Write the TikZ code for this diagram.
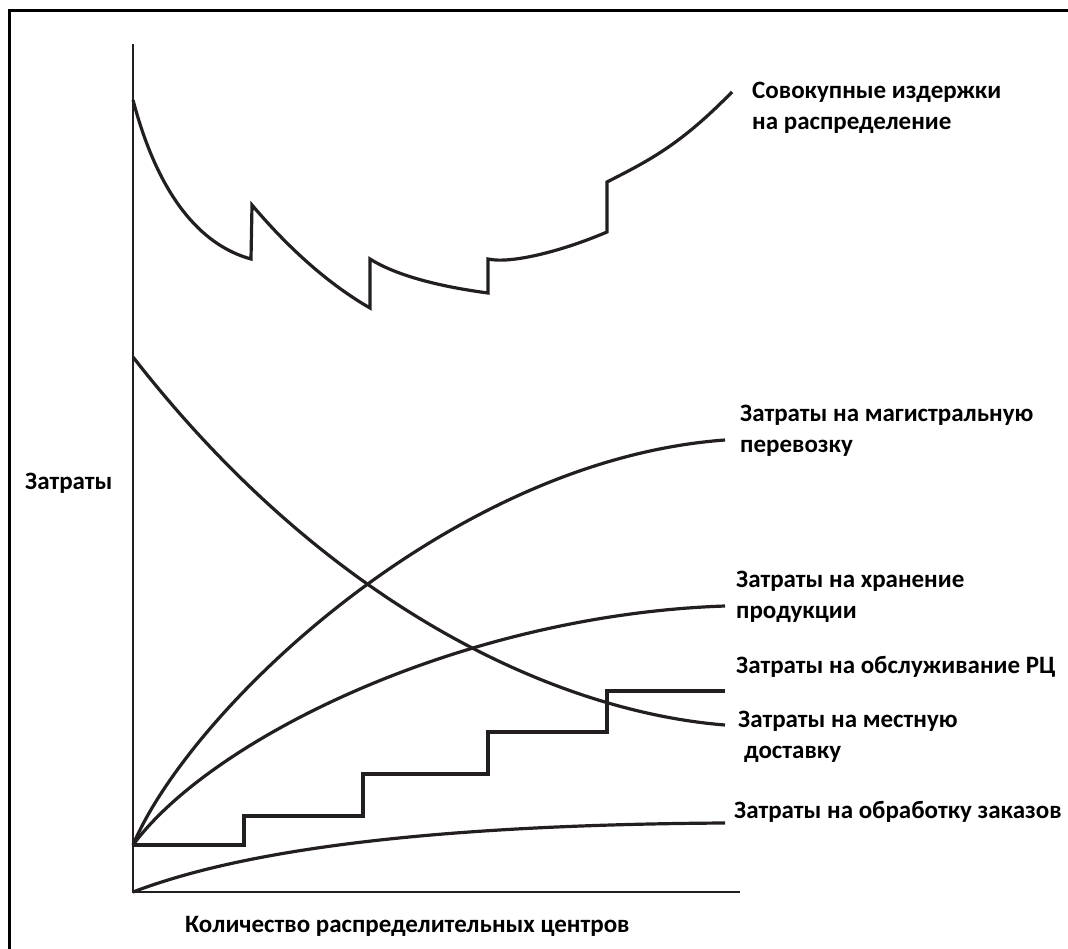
\documentclass[tikz,border=0pt]{standalone}
\usepackage{fontspec}
\setmainfont{Carlito}
\begin{document}
\begin{tikzpicture}[x=1pt,y=-1pt,
  curve/.style={line width=3.2pt, draw=curvecol, line join=miter},
  axis/.style={line width=2.4pt, draw=curvecol},
  lbl/.style={font=\fontsize{25}{31.5}\selectfont\bfseries, inner sep=0pt, align=left, anchor=west, text=black}]
\definecolor{curvecol}{HTML}{231F20}
\useasboundingbox (0,0) rectangle (1068,949);
\clip (0,0) rectangle (1068,949);
% frame
\draw[line width=3pt, black] (9,980) -- (9,11) -- (1090,11);
% axes
\coordinate (ytop) at (133,44);
\coordinate (orig) at (133,892);
\coordinate (xend) at (740,892);
\draw[axis] (ytop) -- (orig) -- (xend);
% total distribution cost
\draw[curve] (133,100) .. controls (158,195) and (200,245) .. (251,259)
  -- (252,205) .. controls (290,250) and (330,285) .. (370,308)
  -- (370,259) .. controls (400,278) and (450,288) .. (488,293)
  -- (488,259) .. controls (510,264) and (560,252) .. (607,232)
  -- (607,182) .. controls (650,160) and (680,145) .. (732,92);
% local delivery
\draw[curve] (133,357) .. controls (330,610) and (560,712) .. (725,725);
% trunk transport
\draw[curve] (133,845) .. controls (190,710) and (450,460) .. (725,440);
% storage
\draw[curve] (133,845) .. controls (210,740) and (460,615) .. (725,606);
% DC service steps
\draw[curve] (133,845) -- (244,845) -- (244,816) -- (363,816) -- (363,774)
  -- (488,774) -- (488,732) -- (607,732) -- (607,691) -- (725,691);
% order processing
\draw[curve] (133,892) .. controls (230,855) and (400,825) .. (725,823);
% labels
\node[lbl] (ltotal) at (752,108) {Совокупные издержки\\на распределение};
\node[lbl] (ltrunk) at (740,431) {Затраты на магистральную\\перевозку};
\node[lbl] (lstore) at (736,597) {Затраты на хранение\\продукции};
\node[lbl] (lserv) at (736,667) {Затраты на обслуживание РЦ};
\node[lbl] (lloc) at (738,737) {Затраты на местную\\\hspace*{6pt}доставку};
\node[lbl] (lorder) at (734,812) {Затраты на обработку заказов};
\node[lbl] (lcost) at (25,483) {Затраты};
\node[lbl] (lx) at (185,926) {Количество распределительных центров};
\end{tikzpicture}
\end{document}
